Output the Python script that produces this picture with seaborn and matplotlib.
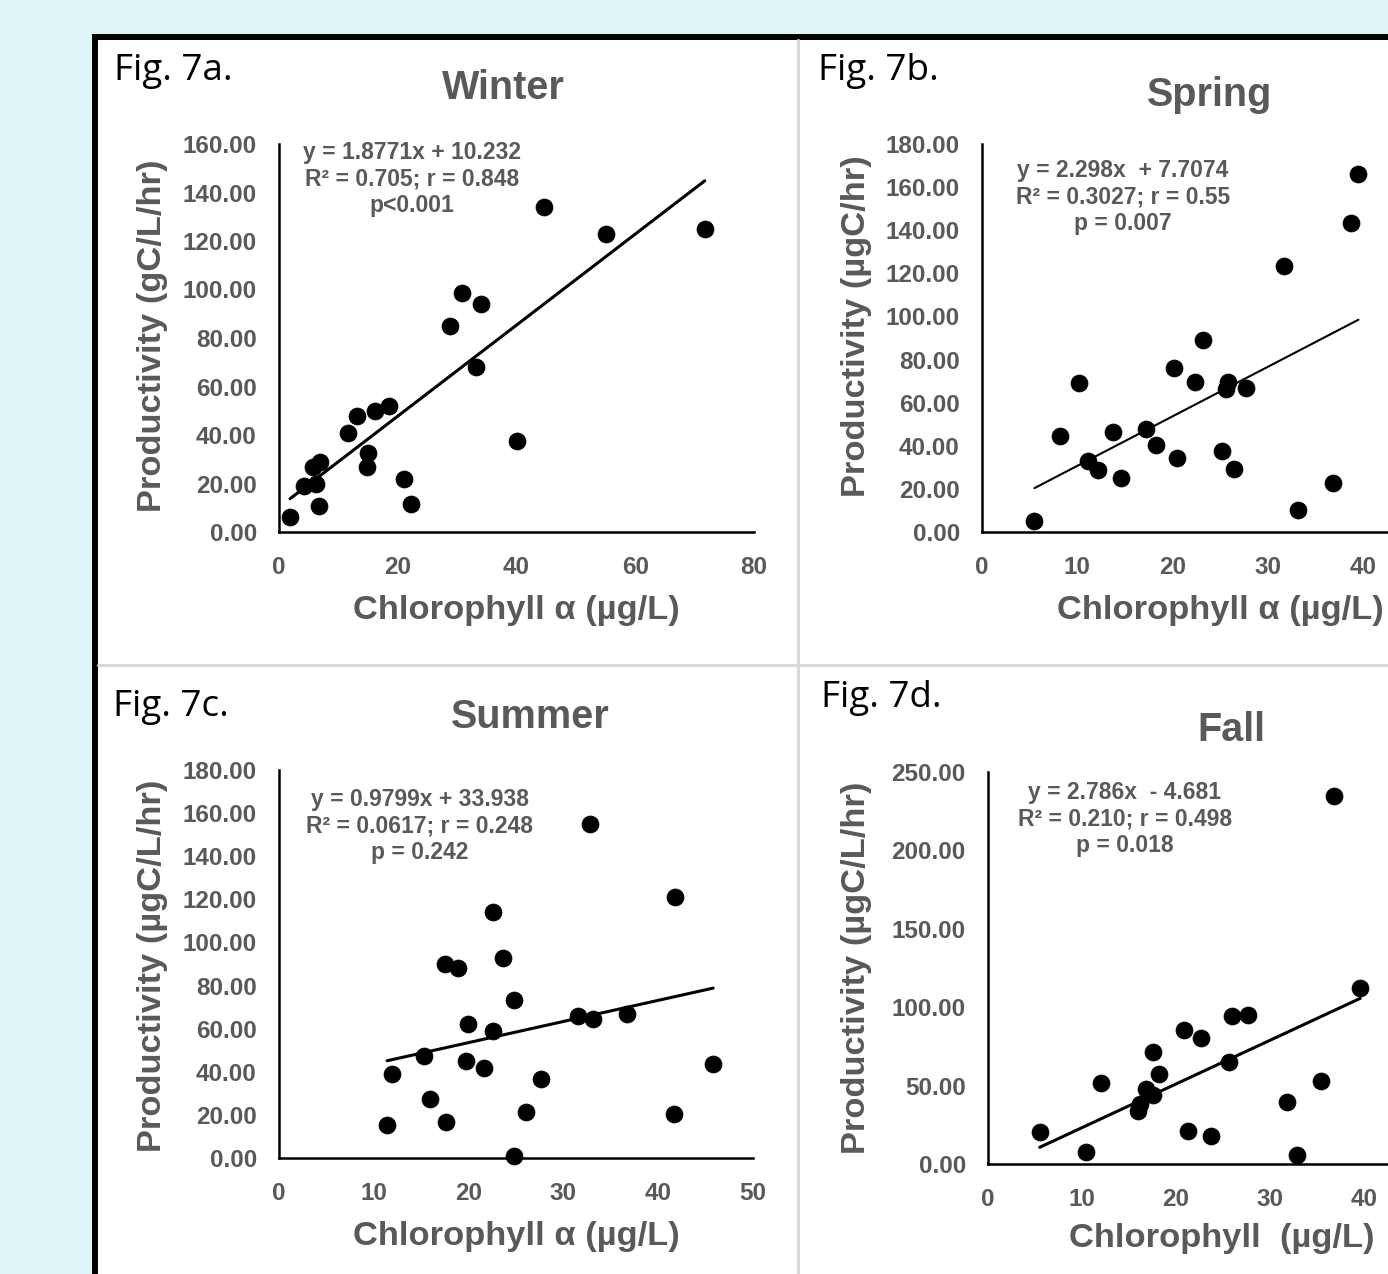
import numpy as np
import pandas as pd
import seaborn as sns
import matplotlib.pyplot as plt
from matplotlib.patches import Rectangle
from matplotlib.lines import Line2D

# ---- data ----
winter_chl = [1.85, 4.2, 5.7, 6.9, 6.2, 6.7, 11.6, 13.2, 15.0, 14.8, 16.2, 18.5,
              21.1, 22.3, 28.8, 30.9, 34.1, 33.1, 40.0, 44.7, 55.0, 71.7]
winter_prod = [6.2, 19.0, 27.0, 29.0, 20.0, 10.7, 41.0, 48.0, 32.6, 27.0, 50.0, 52.0,
               22.0, 11.5, 85.0, 98.5, 94.0, 68.0, 37.5, 134.0, 123.0, 125.0]

spring_chl = [5.5, 8.2, 10.2, 11.1, 12.2, 13.7, 14.6, 17.2, 18.3, 20.1, 20.5, 22.4,
              23.2, 25.2, 25.6, 25.8, 26.4, 27.7, 31.7, 33.2, 36.8, 38.7, 39.5]
spring_prod = [5.1, 44.5, 69.0, 33.0, 28.8, 46.4, 25.0, 47.8, 40.4, 76.0, 34.3, 69.6,
               89.0, 37.5, 66.3, 69.6, 29.0, 67.0, 123.4, 10.2, 22.7, 143.3, 166.0]

summer_chl = [11.4, 11.9, 15.3, 15.9, 17.5, 17.6, 18.9, 19.7, 19.9, 21.6, 22.6, 22.6,
              23.6, 24.8, 24.8, 26.1, 27.6, 31.5, 32.8, 33.1, 36.7, 41.7, 41.8, 45.8]
summer_prod = [15.3, 39.0, 47.3, 27.4, 90.0, 16.7, 88.0, 45.0, 62.0, 41.7, 114.0, 59.0,
               92.8, 73.3, 1.0, 21.3, 36.6, 65.9, 155.0, 64.5, 66.8, 20.4, 121.0, 43.6]

fall_chl = [5.5, 10.4, 12.0, 16.0, 16.2, 16.8, 17.6, 17.6, 18.2, 20.9, 21.3, 22.7,
            23.7, 25.6, 26.0, 27.7, 31.8, 32.9, 35.4, 36.8, 39.6]
fall_prod = [20.4, 7.7, 51.7, 33.8, 38.3, 47.8, 44.0, 71.4, 57.4, 85.5, 21.0, 80.4,
             17.9, 65.0, 94.4, 95.0, 39.5, 5.7, 52.9, 234.7, 112.2]

fits = {"Winter": (1.8771, 10.232), "Spring": (2.298, 7.7074),
        "Summer": (0.9799, 33.938), "Fall": (2.786, -4.681)}

eq_texts = {
    "Winter": "y = 1.8771x + 10.232\nR\u00b2 = 0.705; r = 0.848\np<0.001",
    "Spring": "y = 2.298x  + 7.7074\nR\u00b2 = 0.3027; r = 0.55\np = 0.007",
    "Summer": "y = 0.9799x + 33.938\nR\u00b2 = 0.0617; r = 0.248\np = 0.242",
    "Fall": "y = 2.786x  - 4.681\nR\u00b2 = 0.210; r = 0.498\np = 0.018",
}

W, H = 1388, 1274
GRAY = "#595959"

sns.set_theme(style="white")
plt.rcParams["font.family"] = ["Liberation Sans", "DejaVu Sans"]

fig = plt.figure(figsize=(W / 100, H / 100), dpi=100)
fig.patch.set_facecolor("#ddf5f7")

# white framed box, behind the axes
fig.patches.append(Rectangle((95 / W, -0.1), 1.2, 1.1 - 37 / H, transform=fig.transFigure,
                             facecolor="white", edgecolor="black", linewidth=4.3, zorder=-5))
fig.lines.append(Line2D([798 / W, 798 / W], [0, 1 - 40 / H], transform=fig.transFigure,
                        color="#d9d9d9", linewidth=2.2, zorder=-4))
fig.lines.append(Line2D([98 / W, 1], [1 - 665 / H, 1 - 665 / H], transform=fig.transFigure,
                        color="#d9d9d9", linewidth=2.2, zorder=-4))


def fx(px):
    return px / W


def fy(py):
    return 1 - py / H


def panel(name, chl, prod, box, xlim, xticks, ylim, yticks, lw,
          ylab, ylab_pos, xlab, xlab_pos, title_pos, fig_lab, fig_lab_pos, eq_pos):
    left, right, top, bottom = box
    ax = fig.add_axes([fx(left), fy(bottom), (right - left) / W, (bottom - top) / H])
    ax.set_facecolor("none")
    df = pd.DataFrame({"chl": chl, "prod": prod})
    sns.scatterplot(data=df, x="chl", y="prod", color="black", s=150,
                    edgecolor="black", linewidth=0.5, ax=ax, zorder=3, clip_on=False)
    m, b = fits[name]
    xs = np.array([min(chl), max(chl)])
    sns.lineplot(x=xs, y=m * xs + b, color="black", linewidth=lw, ax=ax, zorder=2)
    ax.set_xlim(*xlim)
    ax.set_ylim(*ylim)
    ax.set_xticks(xticks)
    ax.set_yticks(yticks)
    ax.set_yticklabels([f"{v:.2f}" for v in yticks])
    ax.set_xlabel("")
    ax.set_ylabel("")
    for s in ["top", "right"]:
        ax.spines[s].set_visible(False)
    for s in ["left", "bottom"]:
        ax.spines[s].set_color("black")
        ax.spines[s].set_linewidth(1.8)
    ax.tick_params(axis="both", length=0, labelsize=17.5, labelcolor=GRAY)
    ax.tick_params(axis="x", pad=17)
    ax.tick_params(axis="y", pad=16)
    for t in ax.get_xticklabels() + ax.get_yticklabels():
        t.set_fontweight("bold")

    fig.text(fx(ylab_pos[0]), fy(ylab_pos[1]), ylab, rotation=90, ha="center", va="center",
             fontsize=24.8, fontweight="bold", color=GRAY)
    fig.text(fx(xlab_pos[0]), fy(xlab_pos[1]), xlab, ha="center", va="center",
             fontsize=24.8, fontweight="bold", color=GRAY)
    fig.text(fx(title_pos[0]), fy(title_pos[1] + 3), name, ha="center", va="center",
             fontsize=28.5, fontweight="bold", color=GRAY)
    fig.text(fx(fig_lab_pos[0]), fy(fig_lab_pos[1] + 4), fig_lab, ha="left", va="center",
             fontsize=26.5, color="black", family=["Open Sans", "DejaVu Sans"])
    fig.text(fx(eq_pos[0]), fy(eq_pos[1] + 2), eq_texts[name], ha="center", va="center",
             multialignment="center", fontsize=16.5, fontweight="bold", color=GRAY,
             linespacing=1.2)
    return ax


panel("Winter", winter_chl, winter_prod, (279, 754, 144, 532), (0, 80), [0, 20, 40, 60, 80],
      (0, 160), np.arange(0, 161, 20), 2.2,
      "Productivity (gC/L/hr)", (153, 336), "Chlorophyll \u03b1 (\u00b5g/L)", (516, 610),
      (503, 85), "Fig. 7a.", (114, 67), (412, 177))

panel("Spring", spring_chl, spring_prod, (982, 1388, 144, 532), (0, 406 / 9.53),
      [0, 10, 20, 30, 40], (0, 180), np.arange(0, 181, 20), 1.5,
      "Productivity (\u00b5gC/hr)", (857, 326), "Chlorophyll \u03b1 (\u00b5g/L)", (1220, 610),
      (1210, 92), "Fig. 7b.", (818, 67), (1123, 195))

panel("Summer", summer_chl, summer_prod, (279, 753, 770, 1158), (0, 50),
      [0, 10, 20, 30, 40, 50], (0, 180), np.arange(0, 181, 20), 2.2,
      "Productivity (\u00b5gC/L/hr)", (153, 966), "Chlorophyll \u03b1 (\u00b5g/L)", (516, 1237),
      (530, 714), "Fig. 7c.", (113, 703), (420, 824))

panel("Fall", fall_chl, fall_prod, (988, 1388, 772, 1164), (0, 400 / 9.4),
      [0, 10, 20, 30, 40], (0, 250), np.arange(0, 251, 50), 2.2,
      "Productivity (\u00b5gC/L/hr)", (857, 968), "Chlorophyll  (\u00b5g/L)", (1222, 1239),
      (1231, 727), "Fig. 7d.", (821, 694), (1125, 817))

fig.savefig("out.png", dpi=100, facecolor=fig.get_facecolor())
